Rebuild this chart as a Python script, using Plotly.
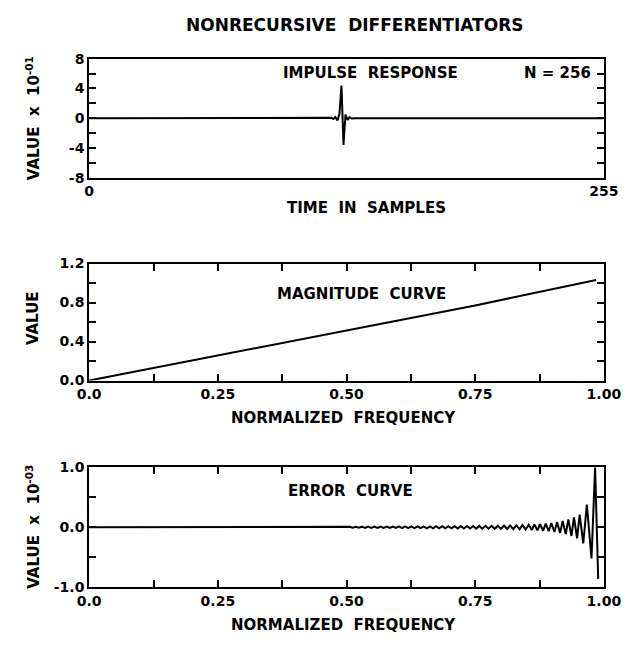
import plotly.graph_objects as go

# ---------------- data ----------------
# Impulse response (value x 10^-1) vs time in samples
impulse_samples = [0, 118, 120, 121, 122, 123, 124, 125, 126, 127, 128, 129, 130, 132, 255]
impulse_values = [0.0, 0.0, 0.05, -0.1, 0.15, -0.3, 0.6, 4.4, -3.6, 0.5, -0.25, 0.15, -0.05, 0.0, 0.0]

# Magnitude curve
mag_freq = [0.0, 0.25, 0.50, 0.75, 0.985]
mag_values = [0.0, 0.255, 0.51, 0.77, 1.03]

# Error curve (value x 10^-3)
err_freq = [0.0, 0.500,
             0.506, 0.512, 0.518, 0.524, 0.530, 0.536, 0.542, 0.548, 0.554, 0.560,
             0.566, 0.572, 0.578, 0.584, 0.590, 0.596, 0.602, 0.608, 0.614, 0.620,
             0.626, 0.632, 0.638, 0.644, 0.650, 0.656, 0.662, 0.668, 0.674, 0.680,
             0.686, 0.692, 0.698, 0.704, 0.710, 0.716, 0.722, 0.728, 0.734, 0.740,
             0.746, 0.752, 0.758, 0.764, 0.770, 0.776, 0.782, 0.788, 0.794, 0.800,
             0.806, 0.812, 0.818, 0.824, 0.830, 0.836, 0.842, 0.848, 0.854, 0.860,
             0.865, 0.871, 0.876, 0.882, 0.887, 0.893, 0.898, 0.904, 0.909, 0.915,
             0.920, 0.926, 0.931, 0.937, 0.942, 0.948, 0.953, 0.960, 0.967, 0.976,
             0.983, 0.989]
err_values = [0.0, 0.0,
              0.008, -0.008, 0.008, -0.008, 0.010, -0.010, 0.010, -0.010, 0.010, -0.010,
              0.012, -0.012, 0.012, -0.012, 0.012, -0.012, 0.014, -0.014, 0.014, -0.014,
              0.015, -0.015, 0.015, -0.015, 0.016, -0.016, 0.016, -0.016, 0.017, -0.017,
              0.018, -0.018, 0.018, -0.018, 0.019, -0.019, 0.020, -0.020, 0.021, -0.021,
              0.022, -0.022, 0.023, -0.023, 0.024, -0.024, 0.025, -0.025, 0.027, -0.027,
              0.029, -0.029, 0.031, -0.031, 0.034, -0.034, 0.037, -0.038, 0.041, -0.043,
              0.046, -0.050, 0.053, -0.057, 0.061, -0.066, 0.072, -0.078, 0.086, -0.093,
              0.105, -0.115, 0.130, -0.145, 0.165, -0.185, 0.210, -0.270, 0.380, -0.520,
              1.000, -0.860]

# Tick labels
top_y_ticks = [-8, -4, 0, 4, 8]
top_y_text = ["-8", "-4", "0", "4", "8"]
top_x_ticks = [0, 255]
top_x_text = ["0", "255"]
mid_y_ticks = [0.0, 0.4, 0.8, 1.2]
mid_y_text = ["0.0", "0.4", "0.8", "1.2"]
freq_ticks = [0.0, 0.25, 0.5, 0.75, 1.0]
freq_text = ["0.0", "0.25", "0.50", "0.75", "1.00"]
bot_y_ticks = [-1.0, 0.0, 1.0]
bot_y_text = ["-1.0", "0.0", "1.0"]

# ---------------- figure ----------------
W, H = 639, 645


def px(x):
    return x / W


def py(y):
    return 1 - y / H


FONT = "DejaVu Sans"
line_style = dict(color="black", width=2)

fig = go.Figure()
fig.add_trace(go.Scatter(x=impulse_samples, y=impulse_values, mode="lines",
                         line=line_style, xaxis="x", yaxis="y", hoverinfo="skip"))
fig.add_trace(go.Scatter(x=mag_freq, y=mag_values, mode="lines",
                         line=line_style, xaxis="x2", yaxis="y2", hoverinfo="skip"))
fig.add_trace(go.Scatter(x=err_freq, y=err_values, mode="lines",
                         line=dict(color="black", width=2), xaxis="x3", yaxis="y3",
                         hoverinfo="skip", cliponaxis=True))

tickfont = dict(family=FONT, size=14, color="black", weight="bold")
base = dict(showline=True, linecolor="black", linewidth=2, showgrid=False,
            zeroline=False, ticks="inside", ticklen=7, tickwidth=2,
            tickcolor="black", mirror="ticks", tickfont=tickfont, fixedrange=True)


def minor(tick0, dtick):
    return dict(ticks="inside", tick0=tick0, dtick=dtick, ticklen=7, tickwidth=2,
                tickcolor="black", showgrid=False)


xdom = [px(81), px(621)]

fig.update_layout(
    width=W, height=H,
    margin=dict(l=0, r=0, t=0, b=0),
    paper_bgcolor="white", plot_bgcolor="white",
    showlegend=False,
    xaxis=dict(base, domain=xdom, range=[0, 255], tickmode="array",
               tickvals=top_x_ticks, ticktext=top_x_text, ticks="", mirror=True,
               anchor="y"),
    yaxis=dict(base, domain=[py(174), py(52)], range=[-8, 8], tickmode="array",
               tickvals=top_y_ticks, ticktext=top_y_text, anchor="x",
               minor=minor(0, 2)),
    xaxis2=dict(base, domain=xdom, range=[0, 1], tickmode="array",
                tickvals=freq_ticks, ticktext=freq_text, anchor="y2",
                minor=minor(0, 0.125)),
    yaxis2=dict(base, domain=[py(382), py(262)], range=[0, 1.2], tickmode="array",
                tickvals=mid_y_ticks, ticktext=mid_y_text, anchor="x2",
                minor=minor(0, 0.2)),
    xaxis3=dict(base, domain=xdom, range=[0, 1], tickmode="array",
                tickvals=freq_ticks, ticktext=freq_text, anchor="y3",
                minor=minor(0, 0.125)),
    yaxis3=dict(base, domain=[py(594), py(471)], range=[-1, 1], tickmode="array",
                tickvals=bot_y_ticks, ticktext=bot_y_text, anchor="x3",
                minor=minor(0, 0.5)),
)

lab = dict(family=FONT, size=15, color="black", weight="bold")
annots = [
    ("NONRECURSIVE  DIFFERENTIATORS", 360, 17, 0, dict(lab, size=17)),
    ("IMPULSE  RESPONSE", 376, 67, 0, lab),
    ("N = 256", 572, 67, 0, lab),
    ("TIME  IN  SAMPLES", 372, 205, 0, lab),
    ("MAGNITUDE  CURVE", 367, 293, 0, lab),
    ("NORMALIZED  FREQUENCY", 348, 420, 0, lab),
    ("ERROR  CURVE", 355, 495, 0, lab),
    ("NORMALIZED  FREQUENCY", 348, 633, 0, lab),
    ("VALUE  x  10<sup>-01</sup>", 22, 113, -90, lab),
    ("VALUE", 22, 318, -90, lab),
    ("VALUE  x  10<sup>-03</sup>", 22, 532, -90, lab),
]
for text, x, y, ang, f in annots:
    fig.add_annotation(text=text, x=px(x), y=py(y), xref="paper", yref="paper",
                       showarrow=False, xanchor="center", yanchor="middle",
                       textangle=ang, font=f)

fig.write_html("out.html")
